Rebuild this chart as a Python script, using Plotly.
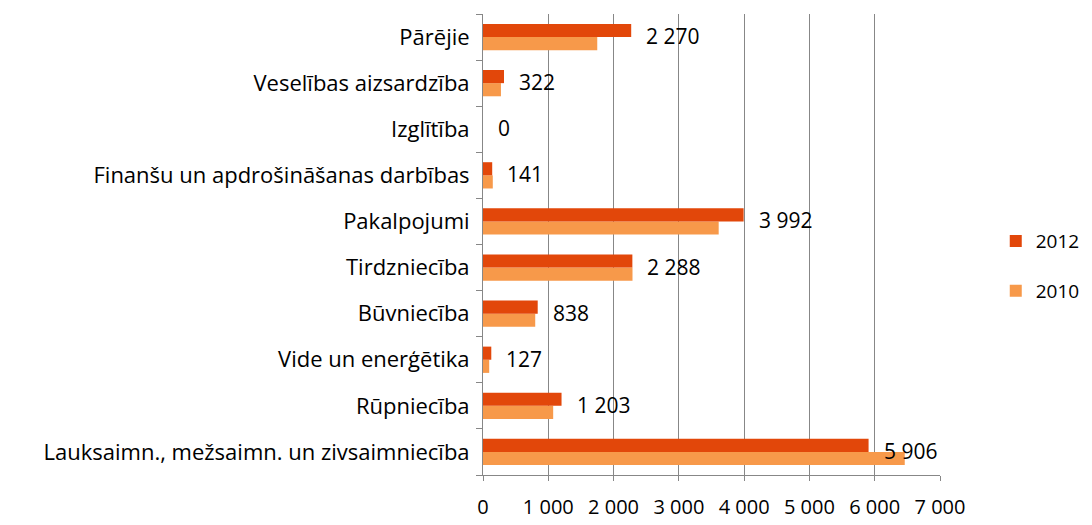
import plotly.graph_objects as go

categories = [
    "Lauksaimn., mežsaimn. un zivsaimniecība",
    "Rūpniecība",
    "Vide un enerģētika",
    "Būvniecība",
    "Tirdzniecība",
    "Pakalpojumi",
    "Finanšu un apdrošināšanas darbības",
    "Izglītība",
    "Veselības aizsardzība",
    "Pārējie",
]
values_2012 = [5906, 1203, 127, 838, 2288, 3992, 141, 0, 322, 2270]
values_2010 = [6460, 1075, 95, 800, 2290, 3610, 150, 0, 275, 1750]
labels_2012 = ["5 906", "1 203", "127", "838", "2 288", "3 992", "141", "0", "322", "2 270"]
tick_vals = [0, 1000, 2000, 3000, 4000, 5000, 6000, 7000]
tick_text = ["0", "1 000", "2 000", "3 000", "4 000", "5 000", "6 000", "7 000"]

FONT = "Open Sans"
FS = 22
c2012 = "#E2470A"
c2010 = "#F7994A"

fig = go.Figure()
fig.add_trace(go.Bar(
    y=categories, x=values_2010, name="2010", orientation="h",
    marker=dict(color=c2010, line=dict(width=0)), legendgroup="a", legendrank=2,
))
fig.add_trace(go.Bar(
    y=categories, x=values_2012, name="2012", orientation="h",
    marker=dict(color=c2012, line=dict(width=0)), legendgroup="b", legendrank=1,
))

for cat, v, t in zip(categories, values_2012, labels_2012):
    fig.add_annotation(x=v, y=cat, text=t, showarrow=False, xanchor="left",
                       xshift=13, yshift=1, font=dict(family=FONT, size=21, color="black"))

# page has an 8px body margin, so the figure is sized to fit the 1092x525 window
fig.update_layout(
    width=1084, height=517,
    margin=dict(l=475, r=152, t=6, b=50, autoexpand=False),
    paper_bgcolor="white", plot_bgcolor="white",
    barmode="group", bargap=0.43, bargroupgap=0,
    font=dict(family=FONT, size=FS, color="black"),
    legend=dict(x=1.122, xanchor="left", y=0.453, yanchor="middle",
                traceorder="grouped", tracegroupgap=22,
                font=dict(family=FONT, size=19, color="black")),
    xaxis=dict(
        range=[0, 7000], tickvals=tick_vals, ticktext=tick_text,
        showgrid=True, gridcolor="#878787", gridwidth=1,
        zeroline=False, showline=True, linecolor="#878787",
        ticks="outside", ticklen=5, tickcolor="#878787",
        ticklabelstandoff=9, tickfont=dict(family=FONT, size=20, color="black"),
    ),
    yaxis=dict(
        type="category", categoryorder="array", categoryarray=categories,
        showline=True, linecolor="#878787", ticks="outside", ticklen=6,
        tickcolor="#878787", tickson="boundaries", showgrid=False,
        ticklabelstandoff=8,
    ),
)

fig.write_html("out.html")
